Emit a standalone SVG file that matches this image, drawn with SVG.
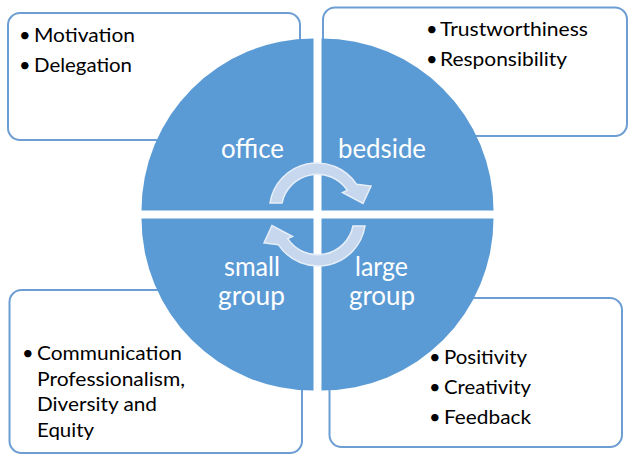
<svg xmlns="http://www.w3.org/2000/svg" xmlns:xlink="http://www.w3.org/1999/xlink" width="637" height="461" viewBox="0 0 637 461">
<style>
.box{fill:#ffffff;stroke:#6d9ed3;stroke-width:2}
.quad{fill:#5b9bd5}
.arrow{fill:#c6d7ee;stroke:#e6eef8;stroke-width:1.5;stroke-linejoin:miter}
.lst{font-family:"Lato","Liberation Sans",sans-serif;font-size:20px;fill:#000000}
.lbl{font-family:"Lato","Liberation Sans",sans-serif;font-size:26px;fill:#ffffff;text-anchor:middle}
</style>
<defs>
<path id="carrow" d="M 270 203 A 47.5 47.5 0 0 1 356.5 184.2 L 371 186 L 363 203.5 L 342.5 192.5 L 347.3 190.4 A 36 36 0 0 0 282 203 Z"/>
</defs>
<rect width="637" height="461" fill="#ffffff"/>
<g id="box-office">
<rect class="box" x="8" y="13" width="292" height="127" rx="12"/>
<text class="lst"><tspan x="19" y="42">•</tspan><tspan x="34" y="42" textLength="101" lengthAdjust="spacingAndGlyphs">Motivation</tspan></text>
<text class="lst"><tspan x="19" y="72">•</tspan><tspan x="34" y="72" textLength="98" lengthAdjust="spacingAndGlyphs">Delegation</tspan></text>
</g>
<g id="box-bedside">
<rect class="box" x="323" y="7.5" width="304" height="128.5" rx="12"/>
<text class="lst"><tspan x="426" y="36">•</tspan><tspan x="440" y="36" textLength="148" lengthAdjust="spacingAndGlyphs">Trustworthiness</tspan></text>
<text class="lst"><tspan x="426" y="66">•</tspan><tspan x="440" y="66" textLength="127" lengthAdjust="spacingAndGlyphs">Responsibility</tspan></text>
</g>
<g id="box-small-group">
<rect class="box" x="9.5" y="290" width="292.5" height="163" rx="12"/>
<text class="lst"><tspan x="22" y="360">•</tspan><tspan x="37" y="360" textLength="145" lengthAdjust="spacingAndGlyphs">Communication</tspan></text>
<text class="lst" x="37" y="386" textLength="148" lengthAdjust="spacingAndGlyphs">Professionalism,</text>
<text class="lst" x="37" y="411" textLength="120" lengthAdjust="spacingAndGlyphs">Diversity and</text>
<text class="lst" x="37" y="437" textLength="57" lengthAdjust="spacingAndGlyphs">Equity</text>
</g>
<g id="box-large-group">
<rect class="box" x="329.5" y="298" width="292.5" height="149" rx="12"/>
<text class="lst"><tspan x="429" y="364">•</tspan><tspan x="444" y="364" textLength="83" lengthAdjust="spacingAndGlyphs">Positivity</tspan></text>
<text class="lst"><tspan x="429" y="394">•</tspan><tspan x="444" y="394" textLength="87" lengthAdjust="spacingAndGlyphs">Creativity</tspan></text>
<text class="lst"><tspan x="429" y="424">•</tspan><tspan x="444" y="424" textLength="87" lengthAdjust="spacingAndGlyphs">Feedback</tspan></text>
</g>
<g id="q-office">
<path class="quad" d="M 313.5 210.5 L 141.5 210.5 A 172 172 0 0 1 313.5 38.5 Z"/>
<text class="lbl" x="252.5" y="158" textLength="63" lengthAdjust="spacingAndGlyphs">office</text>
</g>
<g id="q-bedside">
<path class="quad" d="M 321.5 210.5 L 321.5 38.5 A 172 172 0 0 1 493.5 210.5 Z"/>
<text class="lbl" x="382" y="158" textLength="88" lengthAdjust="spacingAndGlyphs">bedside</text>
</g>
<g id="q-large-group">
<path class="quad" d="M 321.5 218.5 L 493.5 218.5 A 172 172 0 0 1 321.5 390.5 Z"/>
<text class="lbl" x="381.5" y="276" textLength="53" lengthAdjust="spacingAndGlyphs">large</text>
<text class="lbl" x="382" y="305" textLength="66" lengthAdjust="spacingAndGlyphs">group</text>
</g>
<g id="q-small-group">
<path class="quad" d="M 313.5 218.5 L 313.5 390.5 A 172 172 0 0 1 141.5 218.5 Z"/>
<text class="lbl" x="252" y="276" textLength="56" lengthAdjust="spacingAndGlyphs">small</text>
<text class="lbl" x="251.5" y="305" textLength="67" lengthAdjust="spacingAndGlyphs">group</text>
</g>
<g id="connectors">
<use xlink:href="#carrow" class="arrow"/>
<use xlink:href="#carrow" class="arrow" transform="rotate(180 317.5 214.5)"/>
</g>
</svg>
